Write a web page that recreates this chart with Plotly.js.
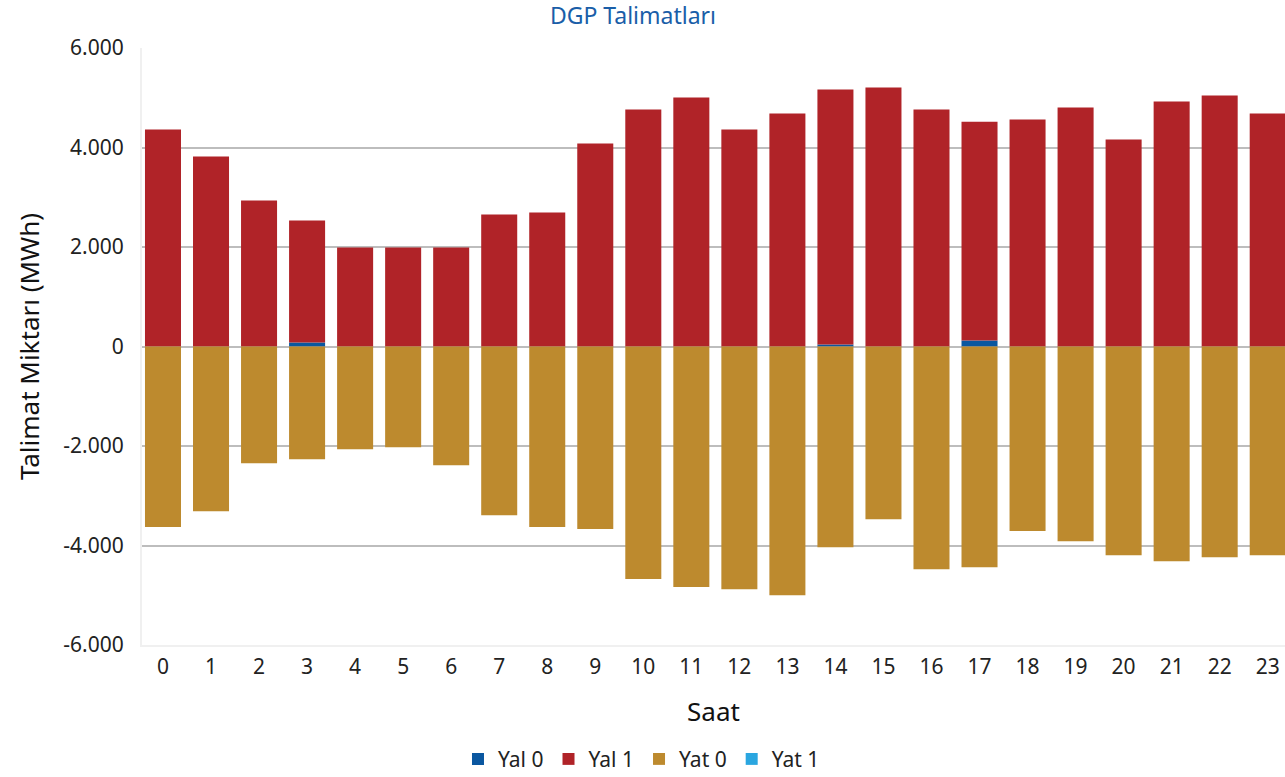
<!DOCTYPE html>
<html>
<head>
<meta charset="utf-8">
<script src="https://cdn.plot.ly/plotly-3.0.1.min.js"></script>
<style>html,body{margin:0;padding:0;background:#fff;}#chart{width:1285px;height:777px;}</style>
</head>
<body>
<div id="chart"></div>
<script>
const hours = ["0","1","2","3","4","5","6","7","8","9","10","11","12","13","14","15","16","17","18","19","20","21","22","23"];
const yal0 = [0,0,0,80,0,0,0,0,0,0,0,0,0,0,40,0,0,120,0,0,0,0,0,0];
const yal1 = [4360,3820,2935,2455,1990,1990,1990,2655,2695,4080,4765,5005,4360,4685,5125,5205,4765,4400,4565,4805,4160,4925,5045,4685];
const yat0 = [-3630,-3310,-2345,-2265,-2065,-2025,-2385,-3390,-3630,-3670,-4675,-4835,-4880,-5000,-4035,-3470,-4475,-4435,-3710,-3915,-4195,-4315,-4235,-4195];
const yat1 = [0,0,0,0,0,0,0,0,0,0,0,0,0,0,0,0,0,0,0,0,0,0,0,0];
const seriesNames = ["Yal 0","Yal 1","Yat 0","Yat 1"];
const yTicks = [-6000,-4000,-2000,0,2000,4000,6000];
const yTickLabels = ["-6.000","-4.000","-2.000","0","2.000","4.000","6.000"];

const colors = ["#0a57a0","#b02328","#bd8a2e","#2aa6e0"];
const data = [yal0, yal1, yat0, yat1].map((vals, i) => ({
  type: "bar",
  name: seriesNames[i],
  x: hours,
  y: vals,
  width: 0.75,
  marker: {color: colors[i], line: {width: 0}},
  hoverinfo: "x+y+name"
}));

const font = "'Noto Sans', 'Open Sans', sans-serif";
const layout = {
  width: 1285, height: 777,
  barmode: "relative",
  separators: ",.",
  font: {family: font, color: "#222", size: 21},
  paper_bgcolor: "#fff", plot_bgcolor: "#fff",
  margin: {l: 142, r: 0, t: 48, b: 132, autoexpand: false},
  title: {text: "DGP Talimatları", x: 0.4926, xanchor: "center", y: 0.979, yanchor: "middle",
          font: {family: font, size: 23, color: "#1a5ea8"}},
  xaxis: {
    type: "category",
    range: [-0.437, 23.36],
    showgrid: false,
    showline: true, linecolor: "#f0f0f0", linewidth: 2,
    ticks: "", ticklabelstandoff: 2,
    tickfont: {size: 21, color: "#222"},
    title: {text: "Saat", font: {size: 26, color: "#111"}, standoff: 24},
    automargin: false
  },
  yaxis: {
    range: [-6000, 6000],
    tickvals: yTicks,
    ticktext: yTickLabels,
    showgrid: true, gridcolor: "#bdbdbd", gridwidth: 2,
    zeroline: true, zerolinecolor: "#bdbdbd", zerolinewidth: 2,
    showline: true, linecolor: "#f0f0f0", linewidth: 2,
    ticks: "", ticklabelstandoff: 12,
    tickfont: {size: 21, color: "#222"},
    title: {text: "Talimat Miktarı (MWh)", font: {size: 26, color: "#111"}, standoff: 16},
    automargin: false
  },
  legend: {
    orientation: "h", x: 0.437, xanchor: "center", y: -0.157, yanchor: "top",
    font: {size: 21, color: "#222"}, traceorder: "normal",
    itemwidth: 30
  },
  showlegend: true
};

Plotly.newPlot("chart", data, layout, {displayModeBar: false, staticPlot: true});
</script>
</body>
</html>
